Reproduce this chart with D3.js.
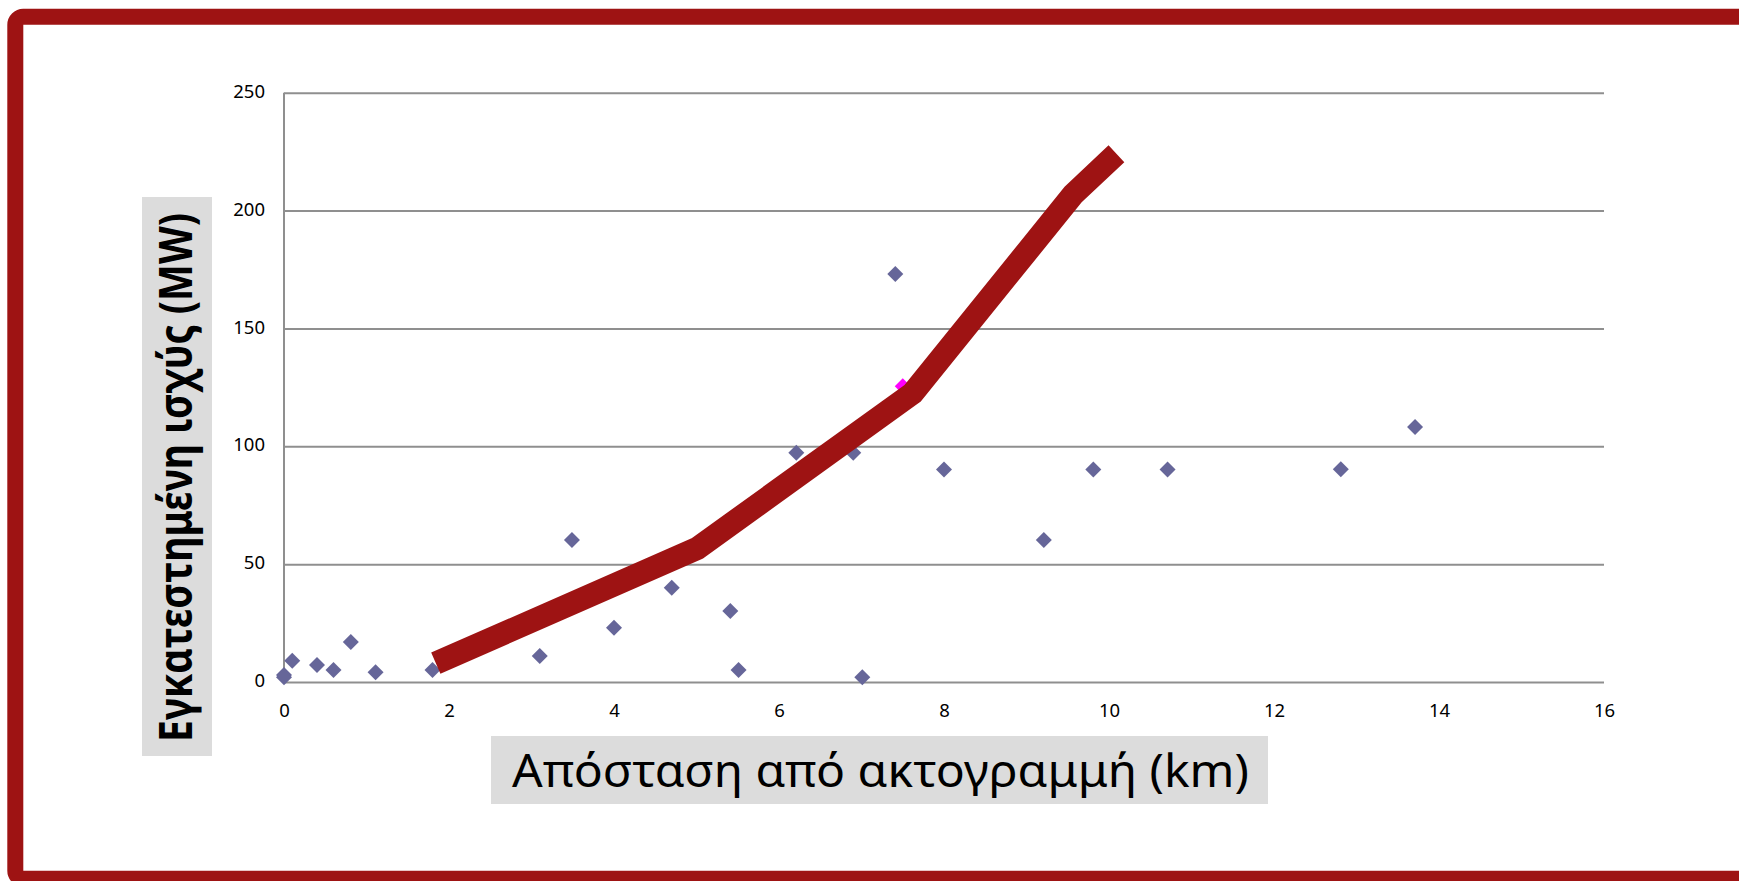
<!DOCTYPE html>
<html>
<head>
<meta charset="utf-8">
<script src="https://cdn.jsdelivr.net/npm/d3@7/dist/d3.min.js"></script>
<style>
  html, body { margin: 0; padding: 0; background: #ffffff; overflow: hidden; }
  svg { display: block; }
</style>
</head>
<body>
<svg id="chart" width="1739" height="881"></svg>
<script>
// ---- data ----
const scatterX = [0, 0, 0.1, 0.4, 0.6, 0.81, 1.11, 1.8, 3.1, 3.49, 4.0, 4.7, 5.41, 5.51, 6.21, 6.9, 7.01, 7.41, 8.0, 9.21, 9.81, 10.71, 12.81, 13.71];
const scatterY = [2, 3, 9, 7.2, 5.1, 17, 4.1, 5.1, 11, 60.2, 23, 40, 30.1, 5.1, 97.3, 97.3, 2, 173.1, 90.2, 60.2, 90.2, 90.2, 90.3, 108.2];
const hiddenX = [7.5];
const hiddenY = [125.5];
const lineX = [1.84, 5.01, 7.62, 9.57, 10.09];
const lineY = [8, 56.7, 122.5, 207, 224.1];
const xTicks = [0, 2, 4, 6, 8, 10, 12, 14, 16];
const yTicks = [0, 50, 100, 150, 200, 250];
const xTitle = "Απόσταση από ακτογραμμή (km)";
const yTitle = "Εγκατεστημένη ισχύς (MW)";

// ---- drawing ----
const svg = d3.select("#chart");
const red = "#9e1313";
const font = "'Noto Sans', 'DejaVu Sans', sans-serif";

// frame
svg.append("rect")
  .attr("x", 15.3).attr("y", 16.8)
  .attr("width", 1800).attr("height", 862)
  .attr("rx", 8).attr("ry", 8)
  .attr("fill", "none").attr("stroke", red).attr("stroke-width", 16);

const x = d3.scaleLinear().domain([0, 16]).range([284, 1604]);
const y = d3.scaleLinear().domain([0, 250]).range([682, 92.7]);

// gridlines
const grid = d3.axisLeft(y).tickValues(yTicks).tickSize(-(x(16) - x(0))).tickFormat("");
svg.append("g").attr("transform", `translate(${x(0)},0)`).call(grid)
  .call(g => g.select(".domain").remove())
  .call(g => g.selectAll("line").attr("stroke", "#8f8f8f").attr("stroke-width", 2));

// y axis line
svg.append("line")
  .attr("x1", x(0)).attr("x2", x(0)).attr("y1", y(250)).attr("y2", y(0))
  .attr("stroke", "#8f8f8f").attr("stroke-width", 2);

// y tick labels
const yAxis = d3.axisLeft(y).tickValues(yTicks).tickSize(0).tickPadding(0).tickFormat(d3.format("d"));
svg.append("g").attr("transform", "translate(265,0)").call(yAxis)
  .call(g => g.select(".domain").remove())
  .call(g => g.selectAll("text")
    .attr("font-family", font).attr("font-size", "18.5px").attr("fill", "#000")
    .attr("dy", null).attr("y", 4.7));

// x tick labels
const xAxis = d3.axisBottom(x).tickValues(xTicks).tickSize(0).tickPadding(0).tickFormat(d3.format("d"));
svg.append("g").attr("transform", "translate(0,0)").call(xAxis)
  .call(g => g.select(".domain").remove())
  .call(g => g.selectAll("text")
    .attr("font-family", font).attr("font-size", "18.5px").attr("fill", "#000")
    .attr("dy", null).attr("y", 716.7));

// diamonds
const diamond = d3.symbol().type(d3.symbolSquare).size(128);
const pts = scatterX.map((v, i) => ({ x: v, y: scatterY[i] }));
const hid = hiddenX.map((v, i) => ({ x: v, y: hiddenY[i] }));

svg.append("g").selectAll("path").data(hid).join("path")
  .attr("d", diamond)
  .attr("transform", d => `translate(${x(d.x)},${y(d.y)}) rotate(45)`)
  .attr("fill", "#ff00ff");

svg.append("g").selectAll("path").data(pts).join("path")
  .attr("d", diamond)
  .attr("transform", d => `translate(${x(d.x)},${y(d.y)}) rotate(45)`)
  .attr("fill", "#666699");

// trend line
const lineData = lineX.map((v, i) => ({ x: v, y: lineY[i] }));
svg.append("path")
  .datum(lineData)
  .attr("d", d3.line().x(d => x(d.x)).y(d => y(d.y)))
  .attr("fill", "none").attr("stroke", red).attr("stroke-width", 23)
  .attr("stroke-linecap", "butt").attr("stroke-linejoin", "round");

// x title
svg.append("rect").attr("x", 491).attr("y", 736).attr("width", 777).attr("height", 68).attr("fill", "#dcdcdc");
svg.append("text")
  .attr("x", 512).attr("y", 786.7)
  .attr("font-family", font).attr("font-size", "46px").attr("fill", "#000")
  .attr("textLength", 737).attr("lengthAdjust", "spacingAndGlyphs")
  .text(xTitle);

// y title
svg.append("rect").attr("x", 142).attr("y", 197).attr("width", 70).attr("height", 559).attr("fill", "#dcdcdc");
svg.append("text")
  .attr("transform", "translate(192,742) rotate(-90)")
  .attr("font-family", font).attr("font-size", "46px").attr("font-weight", "bold").attr("fill", "#000")
  .attr("textLength", 529).attr("lengthAdjust", "spacingAndGlyphs")
  .text(yTitle);
</script>
</body>
</html>
